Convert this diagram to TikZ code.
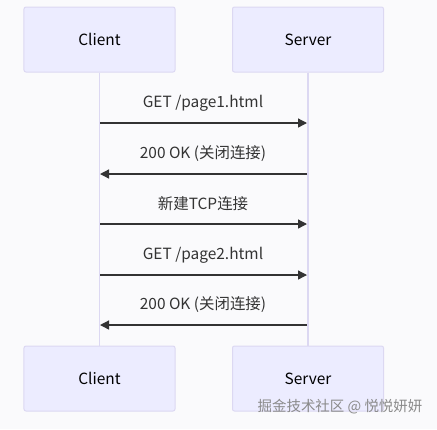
\documentclass[tikz,border=0pt]{standalone}
\usepackage{fontspec}
\setmainfont{Noto Sans CJK SC}
\usetikzlibrary{arrows.meta}
\definecolor{bg}{HTML}{FAFAFC}
\definecolor{actfill}{HTML}{ECECFF}
\definecolor{actline}{HTML}{DCD8F2}
\definecolor{msg}{HTML}{333333}
\definecolor{wm}{HTML}{8A8A8A}
\tikzset{
  actor/.style={draw=actline, line width=1bp, fill=actfill, rounded corners=2bp,
    minimum width=151bp, minimum height=65bp, inner sep=0pt,
    font=\fontsize{15.5}{18}\selectfont, text=black},
  lifeline/.style={draw=actline, line width=1.6bp},
  msgline/.style={draw=msg, line width=1.3bp, -{Triangle[length=9bp,width=9bp]}},
  msglabel/.style={font=\fontsize{15.5}{18}\selectfont, text=msg, inner sep=0pt},
}
\begin{document}
\begin{tikzpicture}[x=1bp,y=-1bp]
\fill[bg] (0,0) rectangle (437,429);
\useasboundingbox (0,0) rectangle (437,429);
\node[actor] (c1) at (99.5,39.5) {Client};
\node[actor] (s1) at (308,39.5) {Server};
\node[actor] (c2) at (99.5,378.5) {Client};
\node[actor] (s2) at (308,378.5) {Server};
\draw[lifeline] (c1.south) -- (c2.north);
\draw[lifeline] (s1.south) -- (s2.north);
% message endpoints
\coordinate (ca1) at (100,123); \coordinate (sa1) at (307,123);
\coordinate (ca2) at (100,174); \coordinate (sa2) at (307,174);
\coordinate (ca3) at (100,224); \coordinate (sa3) at (307,224);
\coordinate (ca4) at (100,275); \coordinate (sa4) at (307,275);
\coordinate (ca5) at (100,325); \coordinate (sa5) at (307,325);
\draw[msgline] (ca1) -- (sa1);
\draw[msgline] (sa2) -- (ca2);
\draw[msgline] (ca3) -- (sa3);
\draw[msgline] (ca4) -- (sa4);
\draw[msgline] (sa5) -- (ca5);
\node[msglabel] (l1) at (203,103) {GET /page1.html};
\node[msglabel] (l2) at (203,154) {200 OK (关闭连接)};
\node[msglabel] (l3) at (203,204) {新建TCP连接};
\node[msglabel] (l4) at (203,255) {GET /page2.html};
\node[msglabel] (l5) at (203,305) {200 OK (关闭连接)};
\node[font=\fontsize{14.5}{16}\selectfont, text=wm, inner sep=0pt] (wmk) at (340,407) {掘金技术社区 @ 悦悦妍妍};
\end{tikzpicture}
\end{document}
